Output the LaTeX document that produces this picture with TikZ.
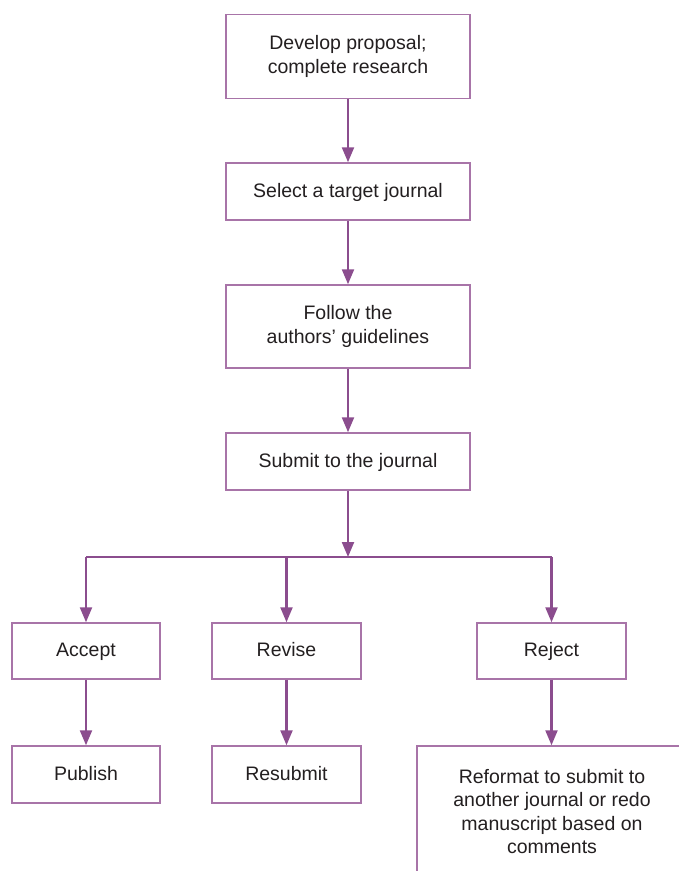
\documentclass[tikz,border=0pt]{standalone}
\usepackage{fontspec}
\setmainfont{Liberation Sans}
\usetikzlibrary{arrows.meta}
\definecolor{linepurple}{HTML}{8B4D8E}
\definecolor{boxpurple}{HTML}{A874A8}
\definecolor{txtgray}{HTML}{231F20}
\begin{document}
\begin{tikzpicture}[x=1pt,y=-1pt,
  fbox/.style={draw=boxpurple,line width=1.5pt,fill=white,rectangle,inner sep=0pt,
    align=center,text=txtgray,font=\fontsize{19.5}{23.5}\selectfont},
  oneline/.style={fbox,text height=14pt,text depth=3pt},
  conn/.style={draw=linepurple,line width=2.2pt},
  arr/.style={conn,-{Triangle[width=12pt,length=15pt]}}]
\useasboundingbox (0,0) rectangle (679,871);
\clip (0,0) rectangle (679,871);
\node[fbox,minimum width=244pt,minimum height=84pt] (dev) at (348,56.5) {Develop proposal;\\complete research};
\node[oneline,minimum width=244pt,minimum height=57pt] (sel) at (348,191.5) {Select a target journal};
\node[fbox,minimum width=244pt,minimum height=83pt] (fol) at (348,326.5) {Follow the\\authors' guidelines};
\node[oneline,minimum width=244pt,minimum height=57pt] (sub) at (348,461.5) {Submit to the journal};
\node[oneline,minimum width=148pt,minimum height=56pt] (acc) at (86,651) {Accept};
\node[oneline,minimum width=149pt,minimum height=56pt] (rev) at (286.5,651) {Revise};
\node[oneline,minimum width=149pt,minimum height=56pt] (rej) at (551.5,651) {Reject};
\node[oneline,minimum width=148pt,minimum height=57pt] (pub) at (86,774.5) {Publish};
\node[oneline,minimum width=149pt,minimum height=57pt] (res) at (286.5,774.5) {Resubmit};
\node[fbox,minimum width=270pt,minimum height=131pt] (ref) at (552,811.5) {Reformat to submit to\\another journal or redo\\manuscript based on\\comments};
\coordinate (split) at (348,557);
\draw[arr] (dev) -- (sel);
\draw[arr] (sel) -- (fol);
\draw[arr] (fol) -- (sub);
\draw[arr] (sub.south) -- (split);
\draw[conn] (acc.north |- split) -- (rej.north |- split);
\draw[arr] (acc.north |- split) -- (acc.north);
\draw[arr] (rev.north |- split) -- (rev.north);
\draw[arr] (rej.north |- split) -- (rej.north);
\draw[arr] (acc) -- (pub);
\draw[arr] (rev) -- (res);
\draw[arr] (rej.south) -- (rej.south |- ref.north);
\end{tikzpicture}
\end{document}
